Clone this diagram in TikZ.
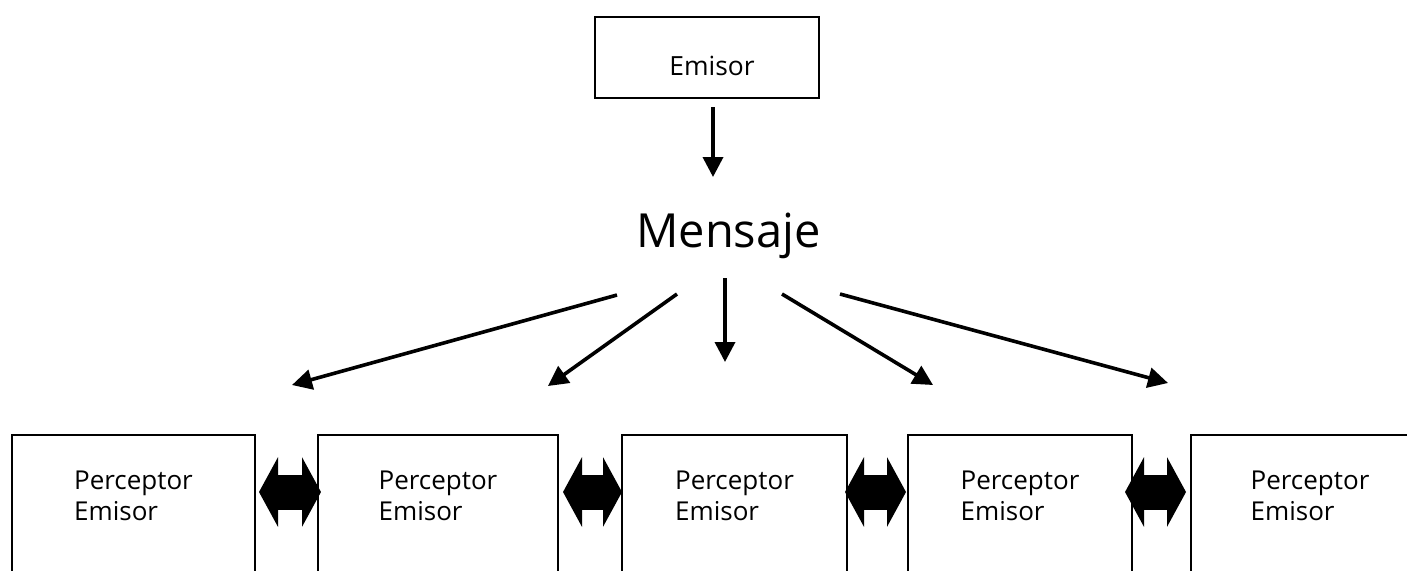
\documentclass[tikz,border=0pt]{standalone}
\usepackage{fontspec}
\setmainfont{Open Sans}
\usetikzlibrary{arrows.meta}
\tikzset{
  x=0.5pt, y=-0.5pt,
  box/.style={draw, line width=1pt, inner sep=0pt},
  pbox/.style={box, anchor=north, minimum height=120pt, align=left,
    font=\fontsize{13}{15.5}\selectfont, text height=10pt, text depth=45pt},
  thin/.style={line width=1.8pt, -{Triangle[length=10pt,width=10pt]}},
  dbl/.style={line width=17.5pt, {Triangle[length=9.5pt,width=34.5pt]}-{Triangle[length=9.5pt,width=34.5pt]}},
}
\begin{document}
\begin{tikzpicture}
\clip (0,0) rectangle (1407,570);
\fill[white] (0,0) rectangle (1407,570);
% top box
\node[box, minimum width=112pt, minimum height=40.5pt, font=\fontsize{13.2}{15.5}\selectfont,
  text height=19pt, text depth=1.5pt] (em) at (707,57.5) {\hspace*{5pt}Emisor};
\node[anchor=base, font=\fontsize{23.5}{28}\selectfont] (men) at (728.5,247) {Mensaje};
% bottom boxes
\node[pbox, minimum width=121.5pt] (b1) at (133.5,434) {Perceptor\\Emisor};
\node[pbox, minimum width=120pt] (b2) at (438,434) {Perceptor\\Emisor};
\node[pbox, minimum width=112.5pt] (b3) at (734.5,434) {Perceptor\\Emisor};
\node[pbox, minimum width=112pt] (b4) at (1020,434) {Perceptor\\Emisor};
\node[pbox, minimum width=119pt] (b5) at (1310,434) {Perceptor\\Emisor};
% arrow coordinates
\coordinate (e1) at (713,107); \coordinate (e2) at (713,177);
\coordinate (m1s) at (617,295); \coordinate (m1e) at (292,385);
\coordinate (m2s) at (677,294); \coordinate (m2e) at (548,386);
\coordinate (m3s) at (725,278); \coordinate (m3e) at (725,362);
\coordinate (m4s) at (782,294); \coordinate (m4e) at (933,385);
\coordinate (m5s) at (840,294); \coordinate (m5e) at (1168,383);
\draw[thin] (e1) -- (e2);
\draw[thin] (m1s) -- (m1e);
\draw[thin] (m2s) -- (m2e);
\draw[thin] (m3s) -- (m3e);
\draw[thin] (m4s) -- (m4e);
\draw[thin] (m5s) -- (m5e);
% double arrows
\draw[dbl] ([xshift=1.5pt,yshift=-29pt]b1.north east) -- ([xshift=2pt,yshift=-29pt]b2.north west);
\draw[dbl] ([xshift=2pt,yshift=-29pt]b2.north east) -- ([xshift=0.5pt,yshift=-29pt]b3.north west);
\draw[dbl] ([xshift=-1.5pt,yshift=-29pt]b3.north east) -- ([xshift=-0.5pt,yshift=-29pt]b4.north west);
\draw[dbl] ([xshift=-4pt,yshift=-29pt]b4.north east) -- ([xshift=-2pt,yshift=-29pt]b5.north west);
\end{tikzpicture}
\end{document}
